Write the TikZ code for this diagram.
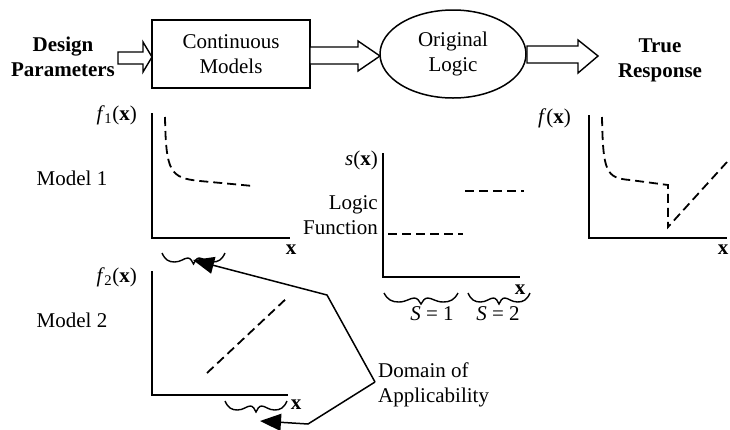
\documentclass[tikz,border=0pt]{standalone}
\usepackage{fontspec}
\setmainfont{Liberation Serif}
\usetikzlibrary{arrows.meta,shapes.geometric}
\newcommand{\wbrace}[3]{%
  \begin{scope}[shift={(#1,#2)}, xscale=#3/100]
    \draw[brace] (0,0) .. controls (5,7) and (11,9) .. (20,9)
      .. controls (30,9) and (35,5) .. (41,5)
      .. controls (45,5) and (48,8) .. (50,11)
      .. controls (52,8) and (55,5) .. (59,5)
      .. controls (65,5) and (70,9) .. (80,9)
      .. controls (89,9) and (95,7) .. (100,0);
  \end{scope}}
\begin{document}
\begin{tikzpicture}[x=1pt,y=-1pt,
  txt/.style={inner sep=0pt, font=\fontsize{21}{25}\selectfont},
  btxt/.style={inner sep=0pt, font=\fontsize{21}{25}\selectfont\bfseries},
  axis/.style={line width=1.8pt},
  dsh/.style={line width=1.8pt, dash pattern=on 9pt off 5pt},
  hollow/.style={line width=1.4pt, fill=white, line join=miter},
  brace/.style={line width=1.4pt},
  ptr/.style={line width=1.5pt, -{Triangle[length=21pt,width=17pt]}},
]
\useasboundingbox (0,0) rectangle (730,429);

% top flow
\node[btxt, align=center] (dp) at (63,57) {Design\\Parameters};
\node[draw, line width=1.5pt, minimum width=158pt, minimum height=68pt, txt, align=center] (cm) at (231,54) {Continuous\\Models};
\node[draw, ellipse, line width=1.5pt, minimum width=146pt, minimum height=88pt, txt, align=center] (ol) at (453,54) {Original\\Logic};
\node[btxt, align=center] (tr) at (660,60) {True\\Response};

\draw[hollow] (118,52) -- (143,52) -- (143,42) -- (152,57) -- (143,72) -- (143,64) -- (118,64) -- cycle;
\draw[hollow] (310,47) -- (358,47) -- (358,41) -- (380,56) -- (358,71) -- (358,64) -- (310,64) -- cycle;
\draw[hollow] (527,46) -- (578,46) -- (578,40) -- (598,56) -- (578,73) -- (578,63) -- (527,63) -- cycle;

% Model 1 plot
\node[txt] (m1) at (72,178) {Model 1};
\node[txt, anchor=east] (f1l) at (137,115) {\textit{f}\kern-0.5pt\textsubscript{1}(\textbf{x})};
\coordinate (o1) at (152,238);
\draw[axis] (152,113) -- (o1) -- (290,238);
\node[txt] (x1) at (291,250) {\textbf{x}};
\draw[dsh] (165,117) .. controls (166,172) and (170,178) .. (200,181) -- (253,186);
\wbrace{162}{253}{63}

% Model 2 plot
\node[txt] (m2) at (72,320) {Model 2};
\node[txt, anchor=east] (f2l) at (137,277) {\textit{f}\kern-0.5pt\textsubscript{2}(\textbf{x})};
\coordinate (o2) at (152,395);
\draw[axis] (152,271) -- (o2) -- (288,395);
\node[txt] (x2) at (296,405) {\textbf{x}};
\draw[dsh] (207,373) -- (288,297);
\wbrace{225}{401}{62}

% logic function plot
\node[txt, anchor=east] (sl) at (378,160) {\textit{s}(\textbf{x})};
\node[txt, anchor=east, align=right] (lf) at (378,215.5) {Logic\\Function};
\coordinate (o3) at (383,277);
\draw[axis] (383,153) -- (o3) -- (520,277);
\node[txt] (x3) at (520,290) {\textbf{x}};
\draw[dsh] (388,234) -- (463,234);
\draw[dsh] (465,191) -- (524,191);
\wbrace{384}{293}{74}
\wbrace{468}{293}{62}
\node[txt] (s1) at (432,314) {\textit{S} = 1};
\node[txt] (s2) at (498,314) {\textit{S} = 2};

% true response plot
\node[txt, anchor=east] (fl) at (571,118) {\textit{f}(\textbf{x})};
\coordinate (o4) at (589,238);
\draw[axis] (589,115) -- (o4) -- (727,238);
\node[txt] (x4) at (723,250) {\textbf{x}};
\draw[dsh] (602,117) .. controls (603,172) and (606,178) .. (630,180) -- (668,185) -- (668,227) -- (727,162);

% domain of applicability
\node[txt, anchor=west, align=left] (dom) at (378,385) {Domain of\\Applicability};
\coordinate (dj) at (375,382);
\coordinate (k1) at (327,295);
\coordinate (k2) at (308,424);
\coordinate (t1) at (193,260);
\coordinate (t2) at (260,421);
\draw[ptr] (dj) -- (k1) -- (t1);
\draw[ptr] (dj) -- (k2) -- (t2);
\end{tikzpicture}
\end{document}
